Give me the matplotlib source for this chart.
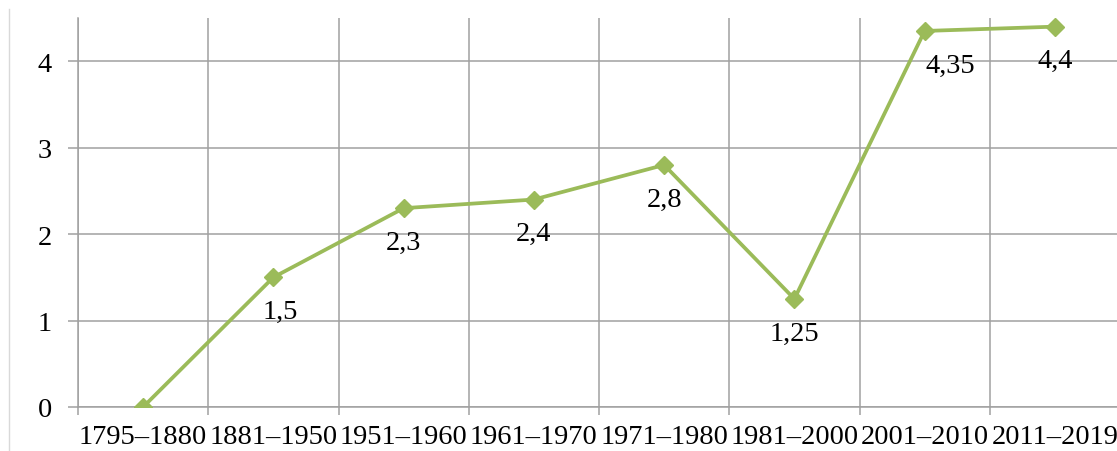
import matplotlib
matplotlib.use('Agg')
import matplotlib.pyplot as plt
from matplotlib.lines import Line2D

plt.rcParams['font.family'] = ['Liberation Serif', 'DejaVu Serif']

# ── data ─────────────────────────────────────────────
periods = ['1795–1880', '1881–1950', '1951–1960', '1961–1970',
           '1971–1980', '1981–2000', '2001–2010', '2011–2019']
values = [0, 1.5, 2.3, 2.4, 2.8, 1.25, 4.35, 4.4]
labels = ['', '1,5', '2,3', '2,4', '2,8', '1,25', '4,35', '4,4']
yticks = [0, 1, 2, 3, 4]

GREEN = '#9bbb59'
GRID = '#a0a0a0'
FS = 20.5
PX = 72 / 100  # points per pixel at dpi 100

W, H = 1117, 452
fig = plt.figure(figsize=(W / 100, H / 100), dpi=100)
# plot area in pixels: left 78, bottom 44, width 1042, height 389
ax = fig.add_axes([78 / W, 44 / H, 1042 / W, 389 / H])

x = list(range(len(periods)))
ax.plot(x, values, color=GREEN, linewidth=2.7, marker='D',
        markersize=9.5, markerfacecolor=GREEN, markeredgecolor=GREEN, zorder=3)

# data labels below points
dx = {6: 26, 1: 7}
for i, (v, lab) in enumerate(zip(values, labels)):
    if not lab:
        continue
    ax.annotate(lab, (i, v), xytext=(dx.get(i, 0), -34), textcoords='offset pixels',
                ha='center', va='center', fontsize=FS, color='black', zorder=4)

ax.set_xlim(-0.5, len(periods) - 0.5)
ax.set_ylim(0, 4.5)

# category labels at centres, tick marks/grid at boundaries
ax.set_xticks(x)
ax.set_xticklabels(periods, fontsize=FS)
ax.set_xticks([i - 0.5 for i in range(len(periods) + 1)], minor=True)
ax.tick_params(axis='x', which='major', length=0, pad=17 * PX)
ax.tick_params(axis='x', which='minor', length=8 * PX, width=1.1, color=GRID)

ax.set_yticks(yticks)
ax.set_yticklabels([str(t) for t in yticks], fontsize=FS)
ax.tick_params(axis='y', length=10 * PX, width=1.1, color=GRID, pad=16 * PX)

ax.grid(axis='x', which='minor', color=GRID, linewidth=1.1)
ax.grid(axis='y', which='major', color=GRID, linewidth=1.1)
ax.set_axisbelow(True)

for s in ['top', 'right']:
    ax.spines[s].set_visible(False)
for s in ['left', 'bottom']:
    ax.spines[s].set_color(GRID)
    ax.spines[s].set_linewidth(1.1)

# faint frame line at the left edge of the chart
fig.add_artist(Line2D([9 / W, 9 / W], [0, 1 - 10 / H], transform=fig.transFigure,
                      color='#d9d9d9', linewidth=1))

fig.savefig('out.png', dpi=100, facecolor='white')
